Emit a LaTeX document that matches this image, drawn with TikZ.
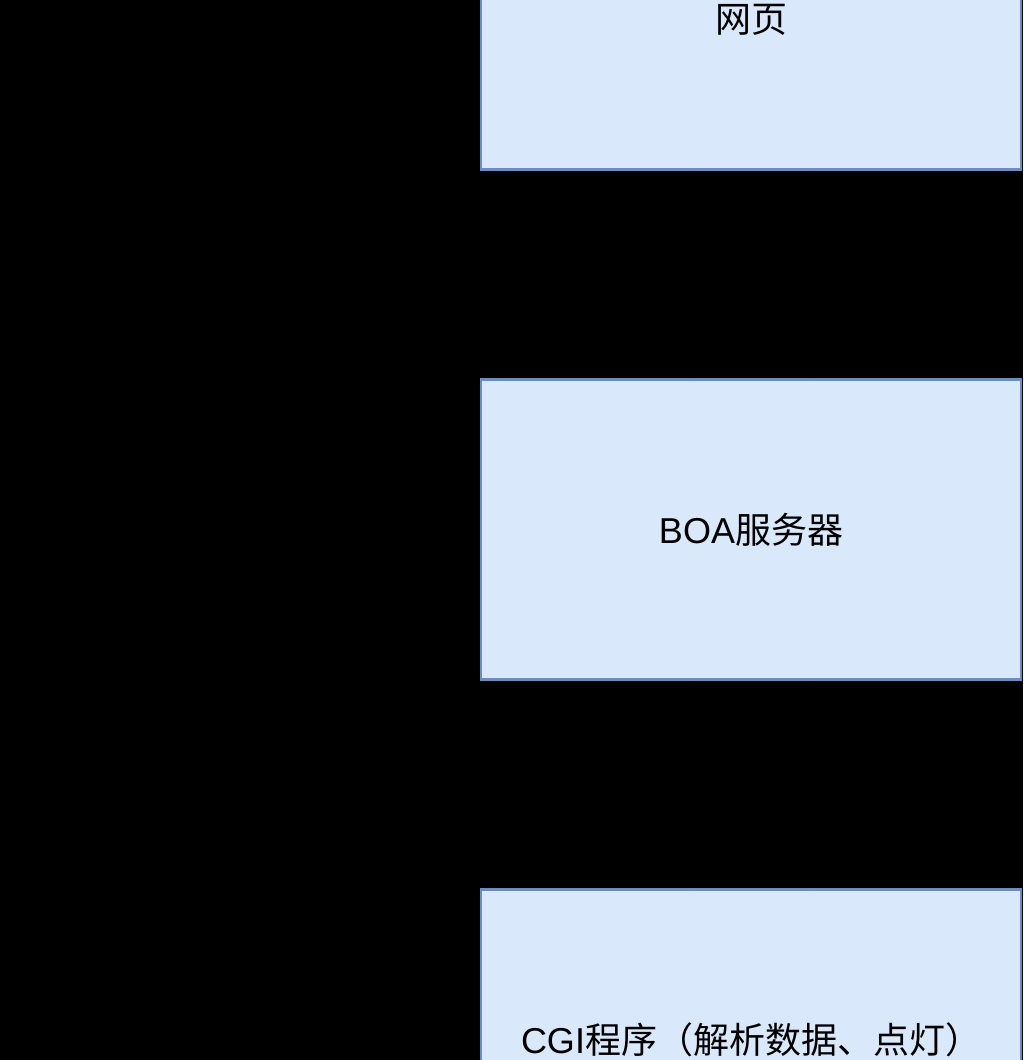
\documentclass[tikz,border=0pt]{standalone}
\usepackage{fontspec}
\setmainfont{Liberation Sans}
\newfontfamily\cjk{Noto Sans CJK SC}
\usetikzlibrary{arrows.meta}
\definecolor{boxfill}{HTML}{DAE8FC}
\definecolor{boxline}{HTML}{6C8EBF}
\tikzset{
  x=1pt, y=1pt,
  procbox/.style={draw=boxline, fill=boxfill, line width=2.8pt, rectangle,
    minimum width=540pt, minimum height=300pt, inner sep=0pt,
    font=\fontsize{36}{42}\selectfont, text=black},
  flow/.style={draw=black, line width=2.8pt, -{Stealth[length=10pt,width=10pt]}}
}
\begin{document}
\begin{tikzpicture}
\fill[black] (0,0) rectangle (1023,-1060);
\useasboundingbox (0,0) rectangle (1023,-1060);
\clip (0,0) rectangle (1023,-1060);
\node[procbox] (web) at (751,-19.5) {{\cjk 网页}};
\node[procbox] (boa) at (751,-529.5) {BOA{\cjk 服务器}};
\node[procbox] (cgi) at (751,-1039.5) {CGI{\cjk 程序（解析数据、点灯）}};
\draw[flow] ([xshift=-59pt]web.south) -- ([xshift=-59pt]boa.north);
\draw[flow] ([xshift=61pt]boa.north) -- ([xshift=61pt]web.south);
\draw[flow] ([xshift=-59pt]boa.south) -- ([xshift=-59pt]cgi.north);
\draw[flow] ([xshift=61pt]cgi.north) -- ([xshift=61pt]boa.south);
\end{tikzpicture}
\end{document}
